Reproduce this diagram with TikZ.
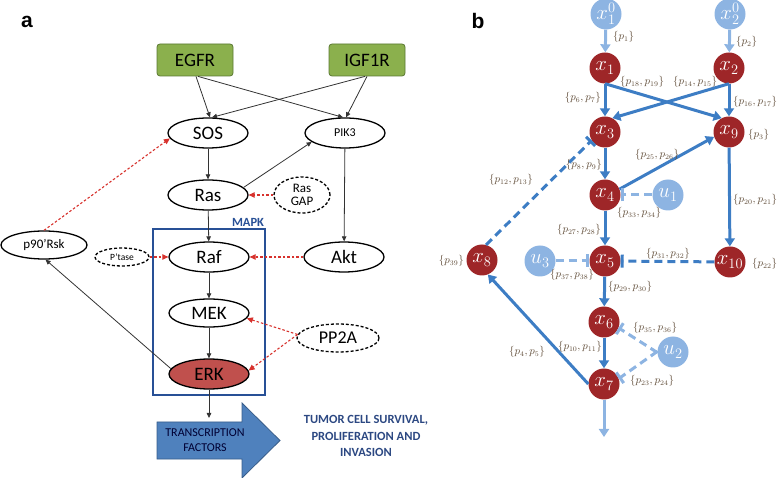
\documentclass[tikz,border=0pt]{standalone}
\usepackage{fontspec}
\setmainfont{Carlito}
\newfontfamily\panelfont{Liberation Sans}
\usetikzlibrary{arrows.meta,shapes.geometric}
\definecolor{rgreen}{RGB}{139,176,77}
\definecolor{rgreend}{RGB}{90,120,50}
\definecolor{erkred}{RGB}{192,80,77}
\definecolor{mapkblue}{RGB}{40,80,150}
\definecolor{arrblue}{RGB}{79,129,189}
\definecolor{arrblued}{RGB}{56,93,138}
\definecolor{tumor}{RGB}{44,72,130}
\definecolor{dred}{RGB}{215,50,45}
\definecolor{nred}{RGB}{158,38,40}
\definecolor{lblue}{RGB}{141,180,226}
\definecolor{eblue}{RGB}{61,125,196}
\definecolor{lbrown}{RGB}{95,75,55}
\tikzset{
  gbox/.style={rectangle, rounded corners=3, draw=rgreend, fill=rgreen, line width=0.8, minimum width=76, minimum height=32, inner sep=0, font=\fontsize{19}{19}\selectfont},
  ov/.style={ellipse, draw=black, line width=1.3, fill=white, minimum width=80, minimum height=30, inner sep=0, font=\fontsize{19}{19}\selectfont},
  dov/.style={ellipse, draw=black, line width=1.3, dash pattern=on 3 off 2, fill=white, inner sep=0},
  blk/.style={draw=black!80, line width=0.8, -{Triangle[length=5,width=4.5]}},
  rdot/.style={draw=dred, line width=1.1, dash pattern=on 2.5 off 2, -{Triangle[length=6,width=5.5]}},
  rn/.style={circle, fill=nred, minimum size=31, inner sep=0, text=white, font=\fontsize{20}{20}\selectfont},
  ln/.style={circle, fill=lblue, minimum size=31, inner sep=0, text=white, font=\fontsize{20}{20}\selectfont},
  act/.style={draw=eblue, line width=3, -{Triangle[length=8,width=10]}},
  lact/.style={draw=lblue, line width=3, -{Triangle[length=8,width=10]}},
  inh/.style={draw=eblue, line width=3, dash pattern=on 8 off 5, -{Bar[width=13]}},
  linh/.style={draw=lblue, line width=3, dash pattern=on 8 off 5, -{Bar[width=13]}},
  la/.style={font=\fontsize{10.5}{11}\selectfont, text=lbrown, inner sep=1},
}
\begin{document}
\begin{tikzpicture}[x=1pt,y=-1pt]
\useasboundingbox (0,0) rectangle (777,478);
% ---------- panel a ----------
\node[font=\panelfont\bfseries\fontsize{21}{21}\selectfont] (pa) at (27,22) {a};
\node[gbox] (egfr) at (195,60) {EGFR};
\node[gbox] (igf) at (367,60) {IGF1R};
\node[ov] (sos) at (208,133) {SOS};
\node[ov, font=\fontsize{12}{12}\selectfont] (pik) at (345,133) {PIK3};
\node[ov] (ras) at (208,195) {Ras};
\node[dov, minimum width=56, minimum height=36, align=center, font=\fontsize{13}{13.5}\selectfont] (gap) at (302,195) {Ras\\GAP};
\draw[draw=mapkblue, line width=1.6] (153,229) rectangle (265,395);
\node[font=\bfseries\fontsize{12.5}{12.5}\selectfont, text=mapkblue] (mapk) at (248,222) {MAPK};
\node[ov, minimum width=86, minimum height=28, font=\fontsize{13}{13}\selectfont] (rsk) at (44,245) {p90’Rsk};
\node[dov, minimum width=54, minimum height=18, font=\fontsize{9.5}{9.5}\selectfont] (ptase) at (122,257) {P’tase};
\node[ov] (raf) at (209,257) {Raf};
\node[ov] (akt) at (344,257) {Akt};
\node[ov, minimum height=28] (mek) at (209,313) {MEK};
\node[dov, minimum width=82, minimum height=28, font=\fontsize{18}{18}\selectfont] (pp2a) at (338,338) {PP2A};
\node[ov, fill=erkred] (erk) at (209,374) {ERK};
\draw[fill=arrblue, draw=arrblued, line width=0.8] (157,422) -- (242,422) -- (242,403) -- (280,440.5) -- (242,478) -- (242,459) -- (157,459) -- cycle;
\node[align=center, text=black!80!blue, font=\fontsize{12}{15}\selectfont] (tf) at (205,440) {TRANSCRIPTION\\FACTORS};
\node[align=center, text=tumor, font=\bfseries\fontsize{12.5}{16.5}\selectfont] (tum) at (366,436) {TUMOR CELL SURVIVAL,\\PROLIFERATION AND\\INVASION};
\coordinate (tfin) at (209,418);
% edges a
\draw[blk] ([xshift=1]egfr.south) -- ([xshift=2]sos.north);
\draw[blk] ([xshift=3]egfr.south) -- ([xshift=-2]pik.north);
\draw[blk] ([xshift=-2]igf.south) -- ([xshift=4]sos.north);
\draw[blk] (igf.south) -- ([xshift=1]pik.north);
\draw[blk] (sos) -- (ras);
\draw[blk] (ras.12) -- (pik.195);
\draw[blk] (pik) -- (akt);
\draw[blk] (ras) -- (raf);
\draw[blk] (raf) -- (mek);
\draw[blk] (mek) -- (erk);
\draw[blk] (erk) -- (tfin);
\draw[blk] (erk.172) -- (rsk.-84);
\draw[rdot] (rsk.north) -- (sos.188);
\draw[rdot] (gap.west) -- (ras.east);
\draw[rdot] (ptase.east) -- (raf.west);
\draw[rdot] (akt.west) -- (raf.east);
\draw[rdot] (pp2a.175) -- (mek.-8);
\draw[rdot] (pp2a.175) -- (erk.5);
% ---------- panel b ----------
\node[font=\panelfont\bfseries\fontsize{21}{21}\selectfont] (pb) at (478,21) {b};
\node[ln] (x10) at (606,14) {$x_1^0$};
\node[ln] (x20) at (730,14) {$x_2^0$};
\node[rn] (x1) at (605,68) {$x_1$};
\node[rn] (x2) at (729,68) {$x_2$};
\node[rn] (x3) at (605,132) {$x_3$};
\node[rn] (x9) at (729,132) {$x_9$};
\node[rn] (x4) at (605,195) {$x_4$};
\node[ln] (u1) at (668,195) {$u_1$};
\node[rn] (x5) at (605,261) {$x_5$};
\node[ln] (u3) at (540,261) {$u_3$};
\node[rn] (xt) at (730,262) {$x_{10}$};
\node[rn] (x8) at (482,260) {$x_8$};
\node[rn] (x6) at (604,322) {$x_6$};
\node[ln] (u2) at (673,352) {$u_2$};
\node[rn] (x7) at (604,384) {$x_7$};
\coordinate (out) at (604,437);
% edges b
\draw[lact] (x10) -- (x1);
\draw[lact] (x20) -- (x2);
\draw[act] (x1) -- (x3);
\draw[act] (x1.south) -- (x9.118);
\draw[act] (x2.south) -- (x3.62);
\draw[act] (x2) -- (x9);
\draw[act] (x3) -- (x4);
\draw[act] (x4.22) -- (x9.198);
\draw[linh] (u1) -- (x4);
\draw[act] (x9) -- (xt);
\draw[act] (x4) -- (x5);
\draw[inh] (xt) -- (x5);
\draw[linh] (u3) -- (x5);
\draw[act] (x5) -- (x6);
\draw[inh] (x8.75) -- (x3.212);
\draw[act] (x7.west) -- (x8.-68);
\draw[act] (x6) -- (x7);
\draw[linh] (u2.182) -- (x6.-22);
\draw[linh] (u2.178) -- (x7.20);
\draw[lact] (x7) -- (out);
% labels b
\node[la, anchor=west] (l1) at (612,37) {$\{p_1\}$};
\node[la, anchor=west] (l2) at (735,42) {$\{p_2\}$};
\node[la, anchor=east] (l67) at (602,98) {$\{p_6,p_7\}$};
\node[la, anchor=west] (l1819) at (619,82) {$\{p_{18},p_{19}\}$};
\node[la, anchor=west] (l1415) at (672,82) {$\{p_{14},p_{15}\}$};
\node[la, anchor=west] (l1617) at (732,102) {$\{p_{16},p_{17}\}$};
\node[la, anchor=west] (l3) at (747,135) {$\{p_3\}$};
\node[la, anchor=east] (l89) at (603,165) {$\{p_8,p_9\}$};
\node[la, anchor=west] (l2526) at (634,155) {$\{p_{25},p_{26}\}$};
\node[la] (l1213) at (511,180) {$\{p_{12},p_{13}\}$};
\node[la, anchor=west] (l3334) at (616,213) {$\{p_{33},p_{34}\}$};
\node[la, anchor=west] (l2021) at (732,200) {$\{p_{20},p_{21}\}$};
\node[la, anchor=east] (l2728) at (602,230) {$\{p_{27},p_{28}\}$};
\node[la] (l3132) at (668,254) {$\{p_{31},p_{32}\}$};
\node[la, anchor=west] (l22) at (751,264) {$\{p_{22}\}$};
\node[la] (l3738) at (572,275) {$\{p_{37},p_{38}\}$};
\node[la, anchor=east] (l39) at (465,261) {$\{p_{39}\}$};
\node[la, anchor=west] (l2930) at (607,287) {$\{p_{29},p_{30}\}$};
\node[la, anchor=west] (l3536) at (632,328) {$\{p_{35},p_{36}\}$};
\node[la, anchor=east] (l1011) at (603,347) {$\{p_{10},p_{11}\}$};
\node[la] (l45) at (527,352) {$\{p_4,p_5\}$};
\node[la, anchor=west] (l2324) at (629,381) {$\{p_{23},p_{24}\}$};
\end{tikzpicture}
\end{document}
